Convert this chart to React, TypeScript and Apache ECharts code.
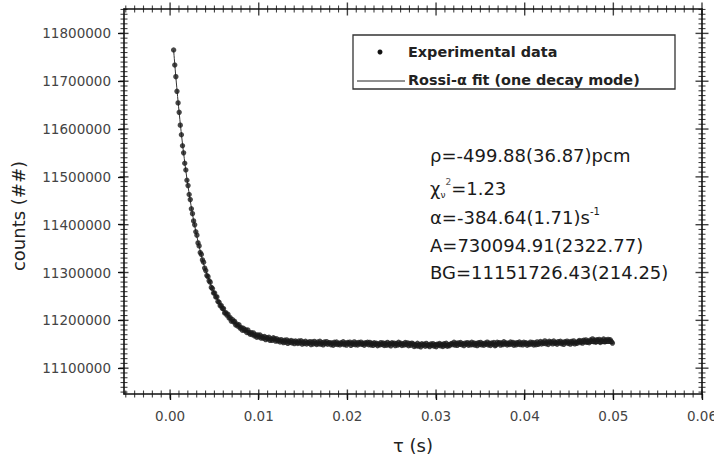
import { useEffect, useRef } from "react";
import * as echarts from "echarts";

// Sampling grid of the experimental Rossi-alpha histogram (s)
const TAU_START = 0.0004;
const TAU_STEP = 0.000125;

// Experimental counts, one per time bin
const COUNTS = [
  11765200, 11733900, 11709500, 11678900, 11654700, 11634900, 11608100, 11588000, 11565000, 11550200,
  11528500, 11514400, 11493000, 11481800, 11463200, 11452500, 11433200, 11423000, 11407900, 11399800,
  11385300, 11378100, 11361900, 11355700, 11341800, 11337800, 11326300, 11321600, 11309200, 11304100,
  11293700, 11291400, 11282600, 11279800, 11268800, 11266500, 11257200, 11257200, 11248900, 11249000,
  11239400, 11237800, 11230500, 11230700, 11224700, 11224500, 11215600, 11216000, 11211000, 11212700,
  11204900, 11205700, 11198400, 11201500, 11196900, 11197900, 11190400, 11192300, 11187900, 11190700,
  11183800, 11184800, 11179400, 11183500, 11178900, 11180300, 11174700, 11179700, 11174200, 11170900,
  11174300, 11170000, 11173700, 11167600, 11169800, 11164700, 11169600, 11165600, 11169300, 11162800,
  11165700, 11162600, 11166100, 11159700, 11163800, 11161300, 11164500, 11158100, 11161000, 11158200,
  11163400, 11161200, 11156600, 11161400, 11157000, 11158900, 11154700, 11159600, 11156300, 11153500,
  11158200, 11154300, 11159100, 11152000, 11156400, 11153800, 11157900, 11152600, 11156200, 11151500,
  11156700, 11154000, 11151700, 11156700, 11152800, 11157300, 11150300, 11154800, 11151700, 11156300,
  11150600, 11153900, 11152100, 11155400, 11149400, 11154600, 11150700, 11155900, 11152200, 11149600,
  11154600, 11150900, 11156300, 11150100, 11153400, 11148800, 11154800, 11151400, 11155500, 11150200,
  11152600,
  11153400, 11149000, 11152500, 11148100, 11154000, 11150400, 11154700, 11149600, 11152100, 11148700,
  11153000, 11150800, 11155300, 11149400, 11152700, 11148300, 11153500, 11151200, 11154300, 11147800,
  11152400, 11150000, 11155000, 11149100, 11152900, 11148500, 11153700, 11150600, 11154500, 11149800,
  11151900, 11148000, 11153200, 11150900, 11154100,
  11149100, 11153800, 11148400, 11151700, 11147700, 11153000, 11149800, 11152100, 11146900, 11150800,
  11148700, 11153400, 11149500, 11152600, 11147400, 11151800, 11148000, 11153900, 11148900, 11151300,
  11146700, 11153200, 11150100, 11152400, 11147200, 11151600, 11148300, 11154200, 11149700, 11151900,
  11147600, 11151000, 11148500, 11153600, 11149300, 11152900, 11147000, 11151400, 11147900, 11152300,
  11150700, 11145500, 11149100, 11146800, 11152000, 11146100, 11149500, 11144600, 11151100, 11148000,
  11150000, 11145800, 11151700, 11147200, 11148600, 11145100, 11150500, 11147600, 11151300, 11146200,
  11149200, 11144800, 11150200, 11148300, 11151500, 11146600, 11149700, 11145300, 11150900, 11147400,
  11152100, 11145900, 11148900, 11147000, 11150600,
  11151600, 11149200, 11154200, 11148300, 11152100, 11147700, 11152900, 11149800, 11153700, 11149000,
  11151100, 11147200, 11152400, 11150100, 11153300, 11148000, 11152000, 11148700, 11154100, 11149400,
  11152600, 11148200, 11151700, 11147300, 11153200, 11149600, 11153900, 11148800, 11151300, 11147900,
  11152200, 11150000, 11154500, 11148600, 11151900, 11147500, 11152700, 11150400, 11153500, 11147000,
  11148500, 11154200, 11151100, 11153400, 11148200, 11152600, 11149300, 11155200, 11150700, 11152900,
  11148600, 11152000, 11149500, 11154600, 11150300, 11153900, 11148000, 11152400, 11148900, 11153300,
  11150100, 11154800, 11149400, 11152700, 11148700, 11154000, 11150800, 11153100, 11147900, 11151800,
  11149700, 11154400, 11150500, 11153600, 11148400, 11152800, 11149000, 11154900, 11149900, 11152300,
  11155700, 11150500, 11154100, 11151800, 11157000, 11151100, 11154500, 11149600, 11156100, 11153000,
  11155000, 11150800, 11156700, 11152200, 11153600, 11150100, 11155500, 11152600, 11156300, 11151200,
  11154200, 11149800, 11155200, 11153300, 11156500, 11151600, 11154700, 11150300, 11155900, 11152400,
  11157100, 11150900, 11153900, 11152000, 11155600,
  11157800, 11153400, 11156900, 11152500, 11158400, 11154800, 11159100, 11154000, 11156500, 11153100,
  11158900, 11156700, 11161200, 11155300, 11158600, 11154200, 11159400, 11157100, 11160200, 11153700,
  11158300, 11155900, 11160900, 11155000, 11158800, 11156000, 11160100, 11157000, 11159500, 11155500,
  11152500,
];

// Rossi-alpha fit curve (one decay mode)
const FIT_TAU = [
  0.0004, 0.0006, 0.0008, 0.001, 0.0012, 0.0014, 0.0016, 0.0018, 0.002, 0.0025,
  0.003, 0.0035, 0.004, 0.005, 0.006, 0.007, 0.008, 0.009, 0.01, 0.012,
  0.014, 0.016, 0.02, 0.03, 0.04, 0.05,
];
const FIT_COUNTS = [
  11764700, 11719300, 11677300, 11638400, 11602400, 11569000, 11538100, 11509400, 11483000, 11425000,
  11377200, 11337700, 11305200, 11256200, 11222800, 11200100, 11184700, 11174100, 11167000, 11158800,
  11155000, 11153200, 11152000, 11151700, 11151700, 11151700,
];

const X_TICKS = [0, 0.01, 0.02, 0.03, 0.04, 0.05, 0.06];
const Y_TICKS = [11100000, 11200000, 11300000, 11400000, 11500000, 11600000, 11700000, 11800000];

const X_MIN = -0.0052;
const X_MAX = 0.06;
const Y_MIN = 11046000;
const Y_MAX = 11851000;

const LEGEND_LABELS = ["Experimental data", "Rossi-\u03b1 fit (one decay mode)"];
const ANNOTATIONS = {
  rho: "\u03c1=-499.88(36.87)pcm",
  chi: "=1.23",
  alpha: "\u03b1=-384.64(1.71)s",
  amp: "A=730094.91(2322.77)",
  bg: "BG=11151726.43(214.25)",
};

const FONT = "'DejaVu Sans', Verdana, sans-serif";
const INK = "#111";

function stepValues(from: number, to: number, step: number, scale: number) {
  const out: number[] = [];
  const a = Math.round(from / step);
  const b = Math.round(to / step);
  for (let k = a; k <= b; k++) out.push(Math.round(k * step * scale) / scale);
  return out;
}

function textStyle(text: string, size: number, extra: any = {}) {
  return {
    text,
    fontSize: size,
    fontFamily: FONT,
    fill: "#1a1a1a",
    align: "left",
    verticalAlign: "middle",
    ...extra,
  };
}

function buildLabels(): any[] {
  return [
    {
      type: "text",
      x: 18,
      y: 216,
      rotation: Math.PI / 2,
      style: textStyle("counts (##)", 18, { fill: "#222", align: "center" }),
    },
    {
      type: "text",
      x: 413,
      y: 445,
      style: textStyle("\u03c4 (s)", 18, { fill: "#222", align: "center" }),
    },
    {
      type: "rect",
      shape: { x: 353, y: 35, width: 322, height: 54 },
      style: { fill: "#fff", stroke: "#333", lineWidth: 1.3 },
    },
    { type: "circle", shape: { cx: 380, cy: 52, r: 2.5 }, style: { fill: "#111" } },
    { type: "line", shape: { x1: 357, y1: 81, x2: 405, y2: 81 }, style: { stroke: "#222", lineWidth: 1 } },
    { type: "text", x: 408, y: 52, style: textStyle(LEGEND_LABELS[0], 14.4, { fontWeight: "bold", fill: "#222" }) },
    { type: "text", x: 408, y: 80, style: textStyle(LEGEND_LABELS[1], 14.4, { fontWeight: "bold", fill: "#222" }) },
    { type: "text", x: 430, y: 155, style: textStyle(ANNOTATIONS.rho, 18) },
    { type: "text", x: 430, y: 245.5, style: textStyle(ANNOTATIONS.amp, 18) },
    { type: "text", x: 430, y: 272.5, style: textStyle(ANNOTATIONS.bg, 18) },
    {
      type: "text",
      x: 430,
      y: 188,
      style: {
        text: "{m|\u03c7}{sub|\u03bd}{sup|2}{m|" + ANNOTATIONS.chi + "}",
        align: "left",
        verticalAlign: "middle",
        rich: {
          m: { fontSize: 18, fontFamily: FONT, fill: "#1a1a1a", lineHeight: 22 },
          sub: { fontSize: 9, fontFamily: FONT, fill: "#1a1a1a", verticalAlign: "bottom", lineHeight: 11 },
          sup: { fontSize: 9, fontFamily: FONT, fill: "#555", verticalAlign: "top", lineHeight: 11 },
        },
      },
    },
    {
      type: "text",
      x: 430,
      y: 217.5,
      style: {
        text: "{m|" + ANNOTATIONS.alpha + "}{sup|-1}",
        align: "left",
        verticalAlign: "middle",
        rich: {
          m: { fontSize: 18, fontFamily: FONT, fill: "#1a1a1a", lineHeight: 22 },
          sup: { fontSize: 10, fontFamily: FONT, fill: "#1a1a1a", verticalAlign: "top", lineHeight: 12 },
        },
      },
    },
  ];
}

export default function App() {
  const ref = useRef<HTMLDivElement>(null);

  useEffect(() => {
    if (!ref.current) return;
    const chart = echarts.init(ref.current, undefined, { renderer: "svg" });

    const points = COUNTS.map((v, i) => [Number((TAU_START + i * TAU_STEP).toFixed(6)), v]);
    const fit = FIT_TAU.map((t, i) => [t, FIT_COUNTS[i]]);

    // Frame tick marks (minor every 0.001 s / 10000 counts) drawn as thin rect symbols
    const xMinor = stepValues(-0.005, 0.06, 0.001, 1e6).filter((v) => v >= X_MIN && v <= X_MAX);
    const yMinor = stepValues(11050000, 11850000, 10000, 1).filter((v) => v >= Y_MIN && v <= Y_MAX);
    const tickMarks: any[] = [];
    xMinor.forEach((v) => {
      const major = X_TICKS.some((m) => Math.abs(m - v) < 1e-9);
      tickMarks.push({ value: [v, Y_MIN], symbolSize: major ? [1.4, 9] : [1.1, 7] });
      tickMarks.push({ value: [v, Y_MAX], symbolSize: major ? [1.4, 13] : [1.1, 7] });
    });
    yMinor.forEach((v) => {
      const major = Y_TICKS.includes(v);
      tickMarks.push({ value: [X_MIN, v], symbolSize: major ? [9, 1.4] : [7, 1.1] });
      tickMarks.push({ value: [X_MAX, v], symbolSize: major ? [13, 1.4] : [7, 1.1] });
    });

    const option: any = {
      animation: false,
      backgroundColor: "#fff",
      grid: { left: 124, top: 9, right: 12, bottom: 64, containLabel: false, outerBoundsMode: "none" },
      xAxis: [
        {
          type: "value",
          min: X_MIN,
          max: X_MAX,
          position: "bottom",
          splitLine: { show: false },
          axisLine: { show: true, onZero: false, lineStyle: { color: INK, width: 1.6 } },
          axisTick: { show: true, inside: false, length: 6, customValues: X_TICKS, lineStyle: { color: INK, width: 1.3 } },
          axisLabel: {
            show: true,
            customValues: X_TICKS,
            formatter: (v: number) => v.toFixed(2),
            margin: 15,
            fontSize: 13.5,
            fontFamily: FONT,
            color: "#444",
          },
        },
        {
          type: "value",
          min: X_MIN,
          max: X_MAX,
          position: "top",
          splitLine: { show: false },
          axisLine: { show: true, onZero: false, lineStyle: { color: INK, width: 1.6 } },
          axisTick: { show: false },
          axisLabel: { show: false },
        },
      ],
      yAxis: [
        {
          type: "value",
          min: Y_MIN,
          max: Y_MAX,
          position: "left",
          splitLine: { show: false },
          axisLine: { show: true, onZero: false, lineStyle: { color: INK, width: 1.6 } },
          axisTick: { show: true, inside: false, length: 6, customValues: Y_TICKS, lineStyle: { color: INK, width: 1.3 } },
          axisLabel: {
            show: true,
            customValues: Y_TICKS,
            formatter: (v: number) => String(Math.round(v)),
            margin: 13,
            fontSize: 13.5,
            fontFamily: FONT,
            color: "#444",
          },
        },
        {
          type: "value",
          min: Y_MIN,
          max: Y_MAX,
          position: "right",
          splitLine: { show: false },
          axisLine: { show: true, onZero: false, lineStyle: { color: INK, width: 1.6 } },
          axisTick: { show: false },
          axisLabel: { show: false },
        },
      ],
      series: [
        {
          name: "frame ticks",
          type: "scatter",
          data: tickMarks,
          xAxisIndex: 0,
          yAxisIndex: 0,
          symbol: "rect",
          clip: false,
          silent: true,
          itemStyle: { color: INK },
          z: 4,
        },
        {
          name: LEGEND_LABELS[1],
          type: "line",
          data: fit,
          xAxisIndex: 0,
          yAxisIndex: 0,
          showSymbol: false,
          smooth: 0.3,
          lineStyle: { color: "#333", width: 1 },
          z: 2,
        },
        {
          name: LEGEND_LABELS[0],
          type: "scatter",
          data: points,
          xAxisIndex: 0,
          yAxisIndex: 0,
          symbol: "circle",
          symbolSize: 5.4,
          itemStyle: { color: "#1a1a1a" },
          z: 3,
        },
      ],
      graphic: buildLabels(),
    };

    chart.setOption(option);
    return () => chart.dispose();
  }, []);

  return (
    <div
      ref={ref}
      style={{ position: "absolute", left: 0, top: 0, width: 714, height: 458, background: "#fff" }}
    />
  );
}
